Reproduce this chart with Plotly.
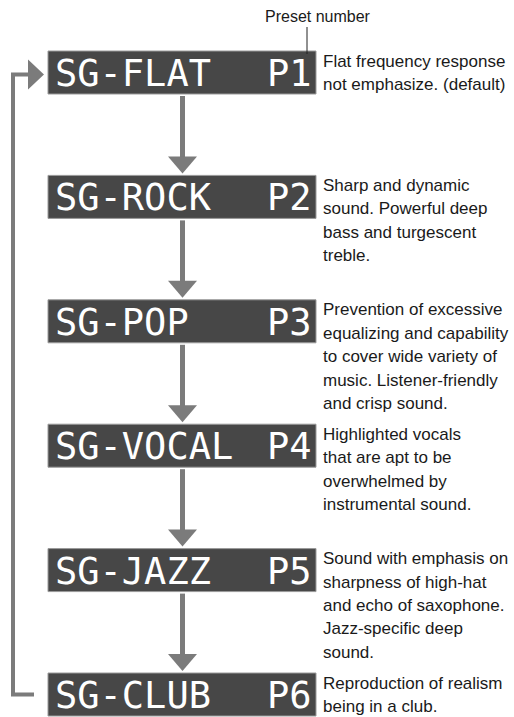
import plotly.graph_objects as go

# ---- data ----
preset_names = ["SG-FLAT", "SG-ROCK", "SG-POP", "SG-VOCAL", "SG-JAZZ", "SG-CLUB"]
preset_numbers = ["P1", "P2", "P3", "P4", "P5", "P6"]
descriptions = [
    ["Flat frequency response", "not emphasize. (default)"],
    ["Sharp and dynamic", "sound. Powerful deep", "bass and turgescent", "treble."],
    ["Prevention of excessive", "equalizing and capability", "to cover wide variety of",
     "music. Listener-friendly", "and crisp sound."],
    ["Highlighted vocals", "that are apt to be", "overwhelmed by", "instrumental sound."],
    ["Sound with emphasis on", "sharpness of high-hat", "and echo of saxophone.",
     "Jazz-specific deep", "sound."],
    ["Reproduction of realism", "being in a club."],
]
callout_label = "Preset number"

# ---- layout constants ----
W, H = 514, 717
BOX_X0, BOX_X1 = 48, 316
BOX_TOP0, STEP, BOX_H = 51, 124.4, 43
ARROW_X = 182.5
ARROW_COL = "#7b7b7b"
BOX_COL = "#474747"
DESC_X = 321
LINE_H = 23.4
TEXT_FONT = "Liberation Sans, Arial, sans-serif"

fig = go.Figure()
shapes, annotations = [], []

tops = [BOX_TOP0 + i * STEP for i in range(len(preset_names))]

for i, (name, num, desc) in enumerate(zip(preset_names, preset_numbers, descriptions)):
    top = tops[i]
    shapes.append(dict(type="rect", x0=BOX_X0, x1=BOX_X1, y0=top, y1=top + BOX_H,
                       fillcolor=BOX_COL, line=dict(color="#9a9a9a", width=1), layer="below"))
    annotations.append(dict(x=BOX_X0 + 5, y=top + BOX_H / 2 + 1, text=name, showarrow=False,
                            xanchor="left", yanchor="middle",
                            font=dict(family="DejaVu Sans Mono", size=37, color="white")))
    annotations.append(dict(x=BOX_X1 - 2, y=top + BOX_H / 2 + 1, text=num, showarrow=False,
                            xanchor="right", yanchor="middle",
                            font=dict(family="DejaVu Sans Mono", size=37, color="white")))
    for k, line in enumerate(desc):
        annotations.append(dict(x=DESC_X, y=top + 10 + k * LINE_H, text=line, showarrow=False,
                                xanchor="left", yanchor="middle", align="left",
                                font=dict(family=TEXT_FONT, size=17, color="#1a1a1a")))
    if i < len(preset_names) - 1:
        nxt = tops[i + 1]
        shapes.append(dict(type="rect", x0=ARROW_X - 2.5, x1=ARROW_X + 2.5,
                           y0=top + BOX_H + 2, y1=nxt - 17,
                           fillcolor=ARROW_COL, line=dict(width=0)))
        shapes.append(dict(type="path",
                           path=f"M {ARROW_X-14.5},{nxt-19} L {ARROW_X+14.5},{nxt-19} L {ARROW_X},{nxt-2} Z",
                           fillcolor=ARROW_COL, line=dict(width=0)))

# loop-back arrow
y_first = tops[0] + BOX_H / 2 + 2
y_last = tops[-1] + BOX_H / 2
shapes.append(dict(type="path", path=f"M 34,{y_last} L 13,{y_last} L 13,{y_first} L 30,{y_first}",
                   line=dict(color=ARROW_COL, width=4)))
shapes.append(dict(type="path",
                   path=f"M 28,{y_first-15} L 28,{y_first+15} L 44,{y_first} Z",
                   fillcolor=ARROW_COL, line=dict(width=0)))

# callout
shapes.append(dict(type="line", x0=307, x1=307, y0=27, y1=tops[0] + 3,
                   line=dict(color="#222222", width=1)))
annotations.append(dict(x=318, y=16, text=callout_label, showarrow=False,
                        xanchor="center", yanchor="middle",
                        font=dict(family=TEXT_FONT, size=16, color="#1a1a1a")))

fig.update_layout(
    width=W, height=H, margin=dict(l=0, r=0, t=0, b=0),
    paper_bgcolor="white", plot_bgcolor="white",
    xaxis=dict(range=[0, W], visible=False, fixedrange=True),
    yaxis=dict(range=[H, 0], visible=False, fixedrange=True),
    shapes=shapes, annotations=annotations, showlegend=False,
)

fig.write_html("out.html", config={"displayModeBar": False},
               post_script="document.body.style.margin='0';document.body.style.overflow='hidden';")
